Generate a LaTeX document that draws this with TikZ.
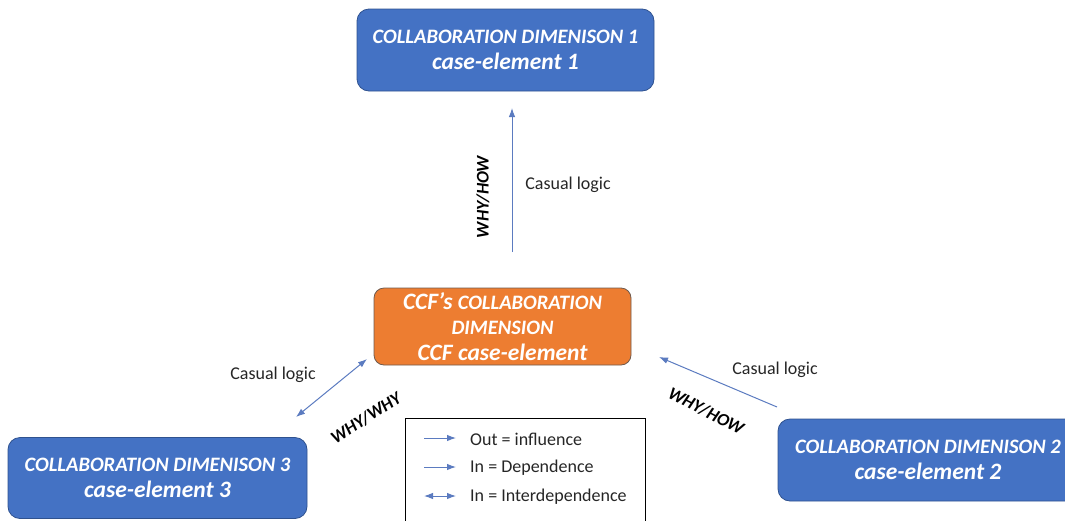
\documentclass[tikz,border=0pt]{standalone}
\usepackage{fontspec}
\setmainfont{Carlito}
\usetikzlibrary{arrows.meta}
\definecolor{boxblue}{HTML}{4472C4}
\definecolor{boxblueedge}{HTML}{2F528F}
\definecolor{boxorange}{HTML}{ED7D31}
\definecolor{orangeedge}{HTML}{6E5A4E}
\definecolor{linkblue}{HTML}{5B7BC0}
\definecolor{inkgray}{HTML}{262626}
\newcommand{\capsize}{\fontsize{20.5}{26}\selectfont}
\newcommand{\lowsize}{\fontsize{23.5}{26}\selectfont}
\tikzset{
  dimbox/.style={draw=boxblueedge, line width=0.8pt, fill=boxblue, rounded corners=12pt,
    text=white, align=center, font=\fontsize{20.5}{26.5}\selectfont\bfseries\itshape, inner sep=0pt},
  ccfbox/.style={draw=orangeedge, line width=0.8pt, fill=boxorange, rounded corners=10pt,
    text=white, align=center, font=\fontsize{20.5}{25.5}\selectfont\bfseries\itshape, inner sep=0pt},
  link/.style={draw=linkblue, line width=1pt, -{Latex[length=9pt,width=6.5pt]}},
  biglink/.style={draw=linkblue, line width=1pt, {Latex[length=9pt,width=6.5pt]}-{Latex[length=9pt,width=6.5pt]}},
  lbl/.style={text=inkgray, font=\fontsize{18}{21}\selectfont, inner sep=0pt},
  tag/.style={text=black, font=\fontsize{17.8}{21}\selectfont\bfseries\itshape, inner sep=0pt},
}
\begin{document}
\begin{tikzpicture}[x=1pt,y=-1pt]
\useasboundingbox (0,0) rectangle (1065,520);
% boxes
\node[dimbox, minimum width=297pt, minimum height=82pt] (d1) at (505.5,50)
  {\capsize COLLABORATION DIMENISON 1\\\lowsize case-element 1};
\node[ccfbox, minimum width=257pt, minimum height=77pt] (ccf) at (502.5,326.5)
  {\lowsize CCF’s \capsize COLLABORATION\\
   \capsize DIMENSION\\\lowsize CCF case-element};
\node[dimbox, minimum width=299pt, minimum height=81pt] (d3) at (157.5,478)
  {\capsize COLLABORATION DIMENISON 3\\\lowsize case-element 3};
\node[dimbox, minimum width=300pt, minimum height=82pt] (d2) at (928,460)
  {\capsize COLLABORATION DIMENISON 2\\\lowsize case-element 2};
% connector end points
\coordinate (upS) at (512,252);
\coordinate (upE) at (512,108);
\coordinate (lfA) at (296,417);
\coordinate (lfB) at (367,359);
\coordinate (rtS) at (777,407);
\coordinate (rtE) at (659,357);
\draw[link] (upS) -- (upE);
\draw[biglink] (lfA) -- (lfB);
\draw[link] (rtS) -- (rtE);
% labels
\node[lbl] (c1) at (568,185) {Casual logic};
\node[lbl] (c3) at (273,375) {Casual logic};
\node[lbl] (c2) at (775,370) {Casual logic};
\node[tag, rotate=90] (w1) at (483,197) {WHY/HOW};
\node[tag, rotate=33] (w3) at (366,418) {WHY/WHY};
\node[tag, rotate=-27] (w2) at (706,411) {WHY/HOW};
% legend
\node[draw=black, line width=0.8pt, fill=white, minimum width=240pt, minimum height=110pt, inner sep=0pt] (lg) at (525,473) {};
\coordinate (l1a) at (424,438); \coordinate (l1b) at (456,438);
\coordinate (l2a) at (424,467); \coordinate (l2b) at (456,467);
\coordinate (l3a) at (424,496); \coordinate (l3b) at (456,496);
\draw[link] (l1a) -- (l1b);
\draw[link] (l2a) -- (l2b);
\draw[biglink] (l3a) -- (l3b);
\node[lbl, anchor=west] (t1) at (470,439) {Out = influence};
\node[lbl, anchor=west] (t2) at (470,468) {In = Dependence};
\node[lbl, anchor=west] (t3) at (470,497) {In = Interdependence};
\end{tikzpicture}
\end{document}
